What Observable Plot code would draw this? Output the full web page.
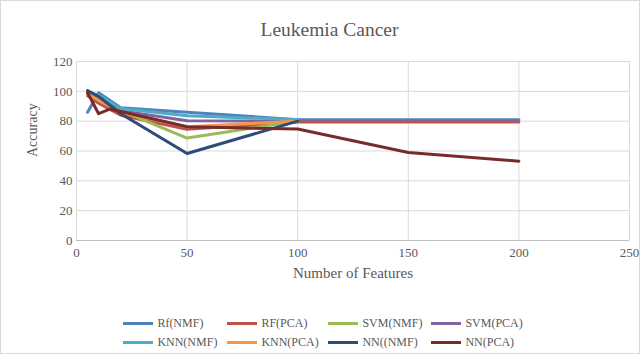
<!DOCTYPE html>
<html>
<head>
<meta charset="utf-8">
<script src="https://cdn.jsdelivr.net/npm/d3@7"></script>
<script src="https://cdn.jsdelivr.net/npm/@observablehq/plot@0.6"></script>
<style>
  body { margin: 0; background: #fff; }
  #wrap { position: relative; width: 638px; height: 352px; border: 1px solid #d9d9d9; overflow: hidden; background: #fff; font-family: "Liberation Serif", serif; color: #595959; }
  #title { position: absolute; left: 228.5px; width: 200px; top: 19.4px; line-height: 20px; font-size: 19.5px; text-align: center; white-space: nowrap; }
  #plot { position: absolute; left: 0; top: 39px; }
  #legend { position: absolute; left: 121.7px; top: 313.5px; display: grid; grid-template-columns: 104px 101px 103px 100px; font-size: 12px; }
  .item { display: flex; align-items: center; height: 18.7px; white-space: nowrap; }
  .sw { display: inline-block; width: 30.7px; height: 3px; margin-right: 4px; }
</style>
</head>
<body>
<div id="wrap">
  <div id="title"></div>
  <div id="plot"></div>
  <div id="legend"></div>
</div>
<script>
const titleText = "Leukemia Cancer";
const xLabel = "Number of Features";
const yLabel = "Accuracy";

const seriesNames = ["Rf(NMF)", "RF(PCA)", "SVM(NMF)", "SVM(PCA)", "KNN(NMF)", "KNN(PCA)", "NN((NMF)", "NN(PCA)"];
const seriesColors = ["#4F81BD", "#C0504D", "#9BBB59", "#8064A2", "#4BACC6", "#F79646", "#2C4D75", "#772C2A"];

const xTicks = [0, 50, 100, 150, 200, 250];
const yTicks = [0, 20, 40, 60, 80, 100, 120];

// features (x) for each series
const featuresLong = [5, 10, 20, 50, 100, 150, 200];
const featuresShort = [5, 10, 20, 50, 100];
const featuresNNpca = [5, 10, 15, 20, 50, 100, 150, 200];

// accuracy values (y)
const rfNmf  = [86, 99, 89, 86, 81, 81, 81];
const rfPca  = [97, 92, 84, 74.5, 79.5, 79.5, 79.5];
const svmNmf = [98, 95, 87, 68.7, 80];
const svmPca = [99, 96, 87, 80.3, 80];
const knnNmf = [99, 97.5, 88.5, 83.7, 81];
const knnPca = [98, 94, 86, 76.3, 80];
const nnNmf  = [100.5, 96.5, 85, 58.3, 80];
const nnPca  = [99, 85, 88, 86.5, 76.3, 74.7, 59, 53.2];

const seriesX = [featuresLong, featuresLong, featuresShort, featuresShort, featuresShort, featuresShort, featuresShort, featuresNNpca];
const seriesY = [rfNmf, rfPca, svmNmf, svmPca, knnNmf, knnPca, nnNmf, nnPca];

const rows = seriesNames.flatMap((name, i) =>
  seriesX[i].map((x, j) => ({series: name, features: x, accuracy: seriesY[i][j]}))
);

document.getElementById("title").textContent = titleText;

const chart = Plot.plot({
  width: 638,
  height: 276,
  marginLeft: 75,
  marginRight: 10,
  marginTop: 21,
  marginBottom: 76,
  style: {fontFamily: "Liberation Serif, serif", fontSize: "13px", color: "#595959", background: "white"},
  x: {domain: [0, 250], ticks: xTicks, tickSize: 0, tickPadding: 7, label: null},
  y: {domain: [0, 120], ticks: yTicks, tickSize: 0, tickPadding: 4, label: null},
  color: {domain: seriesNames, range: seriesColors},
  marks: [
    Plot.ruleY(yTicks.filter(d => d > 0), {stroke: "#d9d9d9", strokeWidth: 1}),
    Plot.ruleX(xTicks, {stroke: "#d9d9d9", strokeWidth: 1}),
    Plot.ruleY([0], {stroke: "#bfbfbf", strokeWidth: 1}),
    Plot.line(rows, {x: "features", y: "accuracy", z: "series", stroke: "series", strokeWidth: 3, strokeLinejoin: "round"}),
    Plot.text([yLabel], {text: d => d, frameAnchor: "left", dx: -44, dy: 6, rotate: -90, fontSize: 14, fill: "#595959"}),
    Plot.text([xLabel], {text: d => d, frameAnchor: "bottom", dy: 37.5, fontSize: 15, fill: "#595959"})
  ]
});
document.getElementById("plot").appendChild(chart);

const legend = document.getElementById("legend");
seriesNames.forEach((name, i) => {
  const item = document.createElement("div");
  item.className = "item";
  const sw = document.createElement("span");
  sw.className = "sw";
  sw.style.background = seriesColors[i];
  const label = document.createElement("span");
  label.textContent = name;
  item.appendChild(sw);
  item.appendChild(label);
  legend.appendChild(item);
});
</script>
</body>
</html>
